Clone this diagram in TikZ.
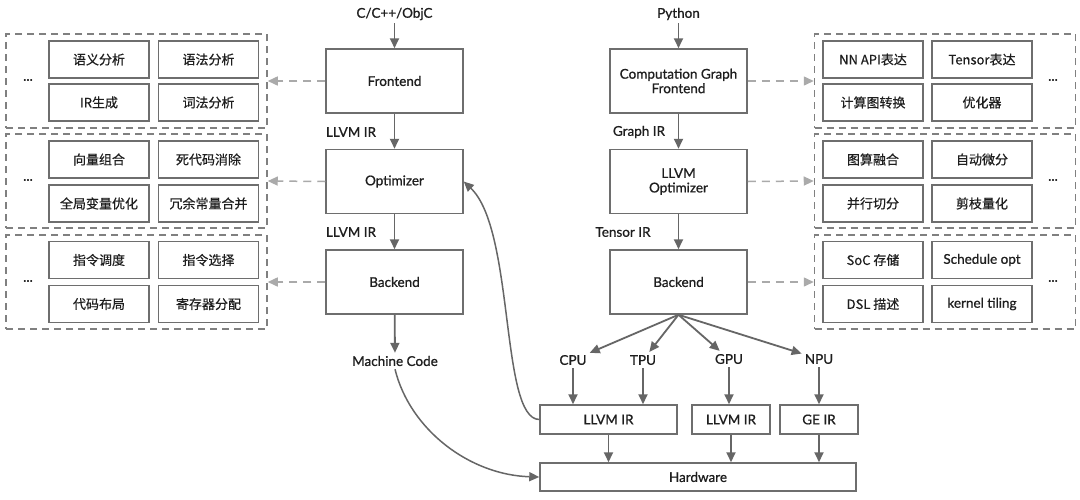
\documentclass[tikz,border=0pt]{standalone}
\usepackage{fontspec}
\setmainfont{Lato}[FakeBold=0.8]
\newfontfamily\cjk{Noto Sans CJK SC}[FakeBold=0.5]
\newfontfamily\latf{Lato}[FakeBold=0.8]
\usetikzlibrary{arrows.meta}
\definecolor{ln}{HTML}{666666}
\definecolor{bd}{HTML}{6E6E6E}
\definecolor{dsh}{HTML}{AAAAAA}
\definecolor{grp}{HTML}{808080}
\definecolor{tx}{HTML}{1E1E1E}
\begin{document}
\begin{tikzpicture}[x=1pt,y=-1pt,
  every node/.style={text=tx, font=\fontsize{13.5}{15.5}\selectfont},
  mainbox/.style={draw=bd, line width=1.5pt, fill=white, minimum width=137pt, minimum height=64pt, align=center, inner sep=0pt},
  subbox/.style={draw=bd, line width=1.5pt, minimum width=100pt, minimum height=37pt, inner sep=0pt, font=\cjk\fontsize{13}{15}\selectfont},
  grpbox/.style={draw=grp, line width=1.5pt, dash pattern=on 7pt off 5pt, minimum width=261pt, minimum height=94pt, inner sep=0pt},
  irbox/.style={draw=bd, line width=1.5pt, minimum height=29pt, inner sep=0pt},
  flow/.style={draw=ln, line width=1.8pt, -{Triangle[length=10pt,width=9pt]}},
  dflow/.style={draw=dsh, line width=1.5pt, dash pattern=on 8pt off 6pt, -{Triangle[length=10pt,width=9pt]}},
  lbl/.style={inner sep=3pt},
]
\useasboundingbox (0,0) rectangle (1080,499);
\fill[white] (0,0) rectangle (1080,499);

% ---------- left groups ----------
\node[grpbox] (lg1) at (136.5,81) {};
\node[grpbox] (lg2) at (136.5,181) {};
\node[grpbox] (lg3) at (136.5,282) {};
\node (ld1) at (28,80) {...};
\node (ld2) at (28,180) {...};
\node (ld3) at (28,281) {...};
\node[subbox] (l11) at (99,59.5) {语义分析};
\node[subbox] (l12) at (208.5,59.5) {语法分析};
\node[subbox] (l13) at (99,102.5) {IR生成};
\node[subbox] (l14) at (208.5,102.5) {词法分析};
\node[subbox] (l21) at (99,159.5) {向量组合};
\node[subbox] (l22) at (208.5,159.5) {死代码消除};
\node[subbox] (l23) at (99,203.5) {全局变量优化};
\node[subbox] (l24) at (208.5,203.5) {冗余常量合并};
\node[subbox] (l31) at (99,260) {指令调度};
\node[subbox] (l32) at (208.5,260) {指令选择};
\node[subbox] (l33) at (99,304) {代码布局};
\node[subbox] (l34) at (208.5,304) {寄存器分配};

% ---------- right groups ----------
\node[grpbox] (rg1) at (945,81) {};
\node[grpbox] (rg2) at (945,181) {};
\node[grpbox] (rg3) at (945,282) {};
\node (rd1) at (1053,80) {...};
\node (rd2) at (1053,180) {...};
\node (rd3) at (1053,281) {...};
\node[subbox] (r11) at (873,59.5) {NN API表达};
\node[subbox] (r12) at (982,59.5) {Tensor表达};
\node[subbox] (r13) at (873,102.5) {计算图转换};
\node[subbox] (r14) at (982,102.5) {优化器};
\node[subbox] (r21) at (873,159.5) {图算融合};
\node[subbox] (r22) at (982,159.5) {自动微分};
\node[subbox] (r23) at (873,203.5) {并行切分};
\node[subbox] (r24) at (982,203.5) {剪枝量化};
\node[subbox] (r31) at (873,260) {SoC 存储};
\node[subbox] (r32) at (982,260) {\latf\fontsize{13.5}{15.5}\selectfont Schedule opt};
\node[subbox] (r33) at (873,304) {DSL 描述};
\node[subbox] (r34) at (982,304) {\latf\fontsize{13.5}{15.5}\selectfont kernel tiling};

% ---------- LLVM column ----------
\node[lbl] (src) at (394.5,14) {C/C++/ObjC};
\node[mainbox] (fe) at (394.5,81) {Frontend};
\node[mainbox] (opt) at (394.5,181.5) {Optimizer};
\node[mainbox] (be) at (394.5,282) {Backend};
\node[lbl] (ir1) at (351,132) {LLVM IR};
\node[lbl] (ir2) at (351,232) {LLVM IR};
\node[lbl] (mc) at (395,361) {Machine Code};

% ---------- AI column ----------
\node[lbl] (py) at (678.5,14) {Python};
\node[mainbox] (cfe) at (678.5,81) {Computation Graph\\[-1pt]Frontend};
\node[mainbox] (copt) at (678.5,181.5) {LLVM\\[-1pt]Optimizer};
\node[mainbox] (cbe) at (678.5,282) {Backend};
\node[lbl] (gir) at (639,132) {Graph IR};
\node[lbl] (tir) at (623,232) {Tensor IR};

\node[lbl] (cpu) at (573,360) {CPU};
\node[lbl] (tpu) at (643,360) {TPU};
\node[lbl] (gpu) at (729,359) {GPU};
\node[lbl] (npu) at (819,359) {NPU};

\node[irbox, minimum width=137pt] (b1) at (608.5,419.5) {LLVM IR};
\node[irbox, minimum width=78pt] (b2) at (731,419.5) {LLVM IR};
\node[irbox, minimum width=78pt] (b3) at (819,419.5) {GE IR};
\node[irbox, minimum width=316pt, minimum height=28pt] (hw) at (698,477) {Hardware};

% ---------- connectors ----------
\draw[flow] (src) -- (fe);
\draw[flow] (fe) -- (opt);
\draw[flow] (opt) -- (be);
\draw[flow] (be) -- (mc);

\draw[flow] (py) -- (cfe);
\draw[flow] (cfe) -- (copt);
\draw[flow] (copt) -- (cbe);

\draw[flow] (cbe.south) -- (cpu);
\draw[flow] (cbe.south) -- (tpu);
\draw[flow] (cbe.south) -- (gpu);
\draw[flow] (cbe.south) -- (npu);

\draw[flow] (cpu) -- (cpu |- b1.north);
\draw[flow] (tpu) -- (tpu |- b1.north);
\draw[flow] (gpu) -- (gpu |- b2.north);
\draw[flow] (npu) -- (npu |- b3.north);

\draw[flow] (b1) -- (b1 |- hw.north);
\draw[flow] (b2) -- (b2 |- hw.north);
\draw[flow] (b3.south) -- (b3.south |- hw.north);

\draw[flow, line width=1.5pt] (b1.west) .. controls (500,419) and (515,230) .. (opt.east);
\draw[flow, line width=1.5pt] (mc.south) .. controls (410,430) and (470,475) .. (hw.west);

\draw[dflow] (fe.west) -- (lg1.east);
\draw[dflow] (opt.west) -- (lg2.east);
\draw[dflow] (be.west) -- (lg3.east);
\draw[dflow] (cfe.east) -- (rg1.west);
\draw[dflow] (copt.east) -- (rg2.west);
\draw[dflow] (cbe.east) -- (rg3.west);
\end{tikzpicture}
\end{document}
